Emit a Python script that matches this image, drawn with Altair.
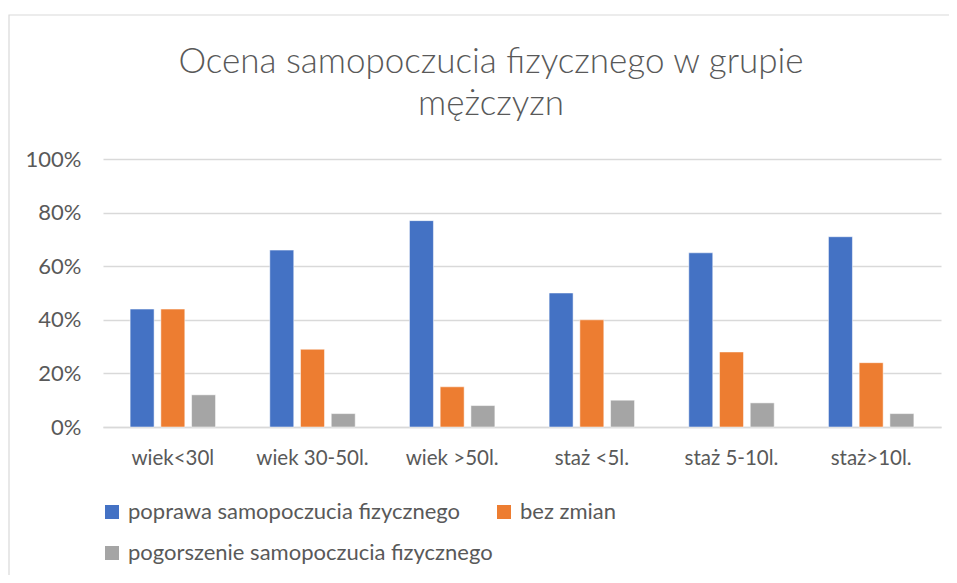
import altair as alt
import pandas as pd

categories = ["wiek<30l", "wiek 30-50l.", "wiek >50l.", "staż <5l.", "staż 5-10l.", "staż>10l."]
series = ["poprawa samopoczucia fizycznego", "bez zmian", "pogorszenie samopoczucia fizycznego"]
poprawa = [0.44, 0.66, 0.77, 0.50, 0.65, 0.71]
bez_zmian = [0.44, 0.29, 0.15, 0.40, 0.28, 0.24]
pogorszenie = [0.12, 0.05, 0.08, 0.10, 0.09, 0.05]
colors = ["#4472C4", "#ED7D31", "#A5A5A5"]
y_ticks = [0, 0.2, 0.4, 0.6, 0.8, 1.0]

rows = []
for s, vals in zip(series, [poprawa, bez_zmian, pogorszenie]):
    for c, v in zip(categories, vals):
        rows.append({"kategoria": c, "seria": s, "wartosc": v})
df = pd.DataFrame(rows)

FONT = "Lato"
TXT = "#595959"
W, H = 838, 268

bars = alt.Chart(df).mark_bar(stroke="white", strokeWidth=0.5).encode(
    x=alt.X("kategoria:N", sort=categories, title=None,
            scale=alt.Scale(paddingInner=0.34, paddingOuter=0.17),
            axis=alt.Axis(labelAngle=0, labelFontSize=20.5, labelColor=TXT, labelFont=FONT,
                          ticks=False, domain=True, domainColor="#d9d9d9", domainWidth=1.5,
                          labelPadding=21, labelBaseline="top")),
    xOffset=alt.XOffset("seria:N", sort=series,
                        scale=alt.Scale(paddingInner=0.22, paddingOuter=0.11)),
    y=alt.Y("wartosc:Q", title=None,
            scale=alt.Scale(domain=[0, 1]),
            axis=alt.Axis(values=y_ticks, format=".0%", labelFontSize=22, labelColor=TXT,
                          labelFont=FONT, ticks=False, domain=False, gridColor="#d9d9d9",
                          gridWidth=1.5, labelPadding=22)),
    color=alt.Color("seria:N", sort=series,
                    scale=alt.Scale(domain=series, range=colors),
                    legend=alt.Legend(title=None, orient="none", legendX=-2, legendY=342,
                                      columns=2, direction="horizontal",
                                      symbolType="square", symbolSize=196,
                                      symbolStrokeWidth=0, labelFontSize=22, labelColor=TXT,
                                      labelFont=FONT, labelLimit=0, rowPadding=19,
                                      columnPadding=-14, padding=0, labelOffset=5)),
)

frame = alt.Chart(pd.DataFrame({"f": [0]})).mark_rect(
    fill=None, stroke="#d9d9d9", strokeWidth=1.2, clip=False
).encode(x=alt.value(-94), x2=alt.value(870), y=alt.value(-144), y2=alt.value(440))

chart = alt.layer(frame, bars).properties(
    width=W, height=H,
    title=alt.TitleParams(
        text=["Ocena samopoczucia fizycznego w grupie", "mężczyzn"],
        fontSize=35, font=FONT, fontWeight=300, color=TXT, anchor="middle",
        frame="bounds", lineHeight=42, offset=-108),
    autosize=alt.AutoSizeParams(type="none"),
    padding={"left": 95, "top": 151, "right": 8, "bottom": 148},
).configure_view(stroke=None)

chart.save("out.html", embed_options={"renderer": "svg", "actions": False})
